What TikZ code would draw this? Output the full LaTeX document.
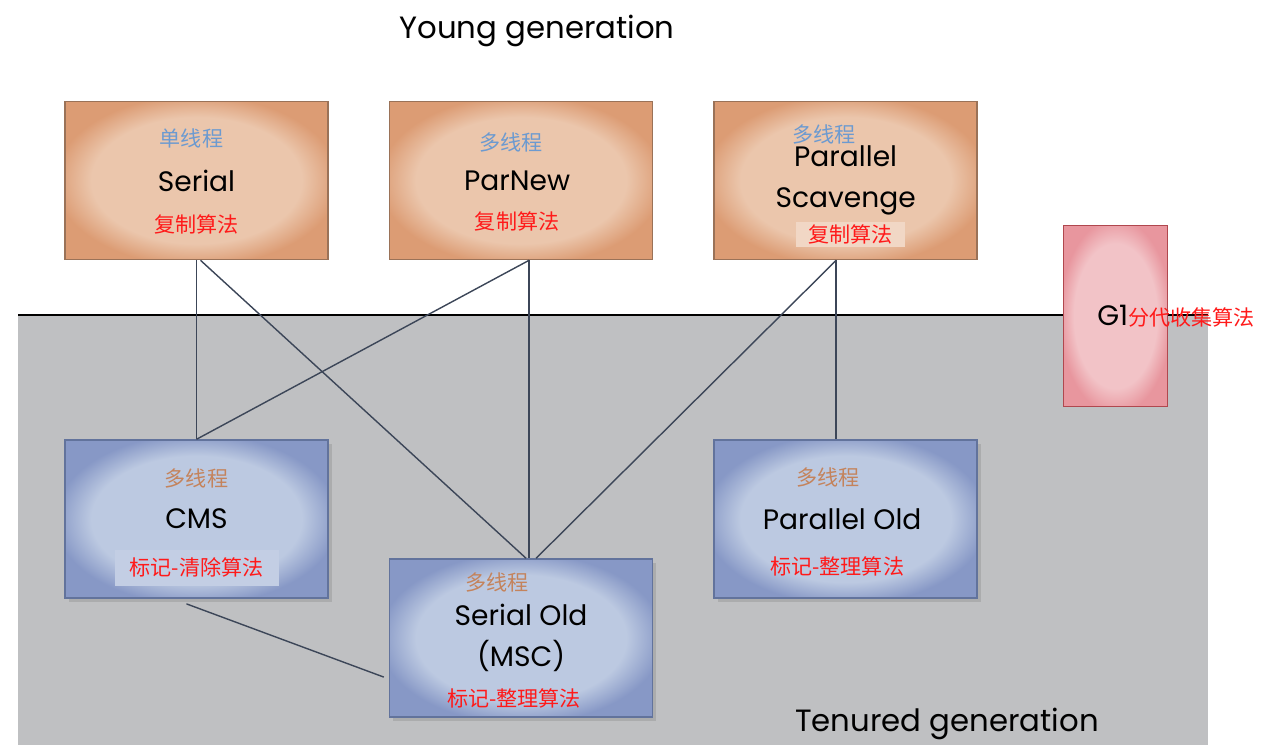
\documentclass[tikz,border=0pt]{standalone}
\usepackage{fontspec}
\setmainfont{Poppins}
\newfontfamily\cjk{Noto Sans CJK SC}
\usepackage{xcolor}
\usepackage{tikz}
\usetikzlibrary{positioning,shadows}
\definecolor{yin}{HTML}{EBC6AC}
\definecolor{yout}{HTML}{DC9C74}
\definecolor{ybord}{HTML}{9A7258}
\definecolor{oin}{HTML}{BCC9E1}
\definecolor{oout}{HTML}{8798C6}
\definecolor{obord}{HTML}{62739C}
\definecolor{gin}{HTML}{F2C3C7}
\definecolor{gout}{HTML}{E8969E}
\definecolor{gbord}{HTML}{B0474E}
\definecolor{tenured}{HTML}{BFC0C2}
\definecolor{thrblue}{HTML}{6C9AD0}
\definecolor{thrbrown}{HTML}{C4835C}
\definecolor{algred}{HTML}{FF1A1A}
\definecolor{linkc}{HTML}{3C4658}
\pgfdeclareradialshading{youngglow}{\pgfpoint{0bp}{0bp}}{color(0bp)=(yin); color(20bp)=(yin); color(27bp)=(yout); color(50bp)=(yout)}
\pgfdeclareradialshading{oldglow}{\pgfpoint{0bp}{0bp}}{color(0bp)=(oin); color(20bp)=(oin); color(27bp)=(oout); color(50bp)=(oout)}
\pgfdeclareradialshading{goneglow}{\pgfpoint{0bp}{0bp}}{color(0bp)=(gin); color(20bp)=(gin); color(27bp)=(gout); color(50bp)=(gout)}
\tikzset{
  young/.style ={draw=ybord,line width=0.9pt,shade,shading=youngglow,
                 minimum width=5.26cm,minimum height=3.16cm},
  old/.style   ={draw=obord,line width=0.9pt,shade,shading=oldglow,
                 minimum width=5.26cm,minimum height=3.16cm,
                 drop shadow={shadow xshift=2pt,shadow yshift=-2pt,fill=black!40,opacity=.5}},
  gonebox/.style={draw=gbord,line width=0.9pt,shade,shading=goneglow,
                 minimum width=2.08cm,minimum height=3.62cm},
  gcname/.style={font=\fontsize{16}{23}\selectfont,align=center,inner sep=0pt},
  thr/.style   ={font=\cjk\fontsize{12}{14}\selectfont,inner sep=1pt},
  alg/.style   ={font=\cjk\fontsize{12}{14}\selectfont,text=algred,inner sep=1pt},
  gentitle/.style={font=\fontsize{17.5}{21}\selectfont},
  link/.style  ={line width=0.8pt,draw=linkc}
}
\begin{document}
\begin{tikzpicture}[node distance=1.2cm]
  \useasboundingbox (0,0) rectangle (25.5,-14.9);
  \fill[tenured] (0.36,-6.3) rectangle (24.16,-14.9);
  \coordinate (genL) at (0.36,-6.3);
  \coordinate (genR) at (24.16,-6.3);
  \draw[line width=0.9pt] (genL) -- (genR);

  \node[gentitle] (youngt) at (10.74,-0.62) {Young generation};
  \node[gentitle] (tenuredt) at (18.94,-14.48) {Tenured generation};

  % young collectors
  \node[young] (serial) at (3.93,-3.61) {};
  \node[young,right=of serial] (parnew) {};
  \node[young,right=of parnew] (parscav) {};
  % tenured collectors
  \node[old,below=3.58cm of serial] (cms) {};
  \node[old,below=3.58cm of parscav] (parold) {};
  \node[old,below=5.96cm of parnew] (serialold) {};
  \node[gonebox] (gone) at (22.31,-6.32) {};

  \draw[link] (serial.south) -- (cms.north);
  \draw[link] ([xshift=0.08cm]serial.south) -- ([xshift=0.1cm]serialold.north);
  \draw[link] ([xshift=0.16cm]parnew.south) -- (cms.north);
  \draw[link] ([xshift=0.16cm]parnew.south) -- ([xshift=0.16cm]serialold.north);
  \draw[link] ([xshift=-0.19cm]parscav.south) -- ([xshift=0.3cm]serialold.north);
  \draw[link] ([xshift=-0.19cm]parscav.south) -- ([xshift=-0.19cm]parold.north);
  \draw[link] ([xshift=-0.2cm,yshift=-0.1cm]cms.south) -- ([xshift=-0.1cm,yshift=-0.78cm]serialold.west);

  \node[thr,text=thrblue] (serialthr) at ([xshift=-0.1cm,yshift=0.85cm]serial.center) {单线程};
  \node[gcname] (serialname) at (serial.center) {Serial};
  \node[alg] (serialalg) at ([yshift=-0.87cm]serial.center) {复制算法};

  \node[thr,text=thrblue] (parnewthr) at ([xshift=-0.2cm,yshift=0.77cm]parnew.center) {多线程};
  \node[gcname] (parnewname) at ([xshift=-0.08cm]parnew.center) {ParNew};
  \node[alg] (parnewalg) at ([xshift=-0.08cm,yshift=-0.81cm]parnew.center) {复制算法};

  \node[thr,text=thrblue] (parscavthr) at ([xshift=-0.43cm,yshift=0.93cm]parscav.center) {多线程};
  \node[gcname] (parscavname) at (parscav.center) {Parallel\\Scavenge};
  \node[alg,fill=yin!70!white,minimum width=2.18cm,minimum height=0.5cm] (parscavalg)
    at ([xshift=0.09cm,yshift=-1.07cm]parscav.center) {复制算法};

  \node[thr,text=thrbrown] (cmsthr) at ([yshift=0.81cm]cms.center) {多线程};
  \node[gcname] (cmsname) at (cms.center) {CMS};
  \node[alg,fill=oin!90!white,minimum width=3.28cm,minimum height=0.72cm] (cmsalg)
    at ([yshift=-0.97cm]cms.center) {标记-清除算法};

  \node[thr,text=thrbrown] (paroldthr) at ([xshift=-0.35cm,yshift=0.83cm]parold.center) {多线程};
  \node[gcname] (paroldname) at ([xshift=-0.07cm]parold.center) {Parallel Old};
  \node[alg] (paroldalg) at ([xshift=-0.17cm,yshift=-0.95cm]parold.center) {标记-整理算法};

  \node[thr,text=thrbrown] (serialoldthr) at ([xshift=-0.48cm,yshift=1.11cm]serialold.center) {多线程};
  \node[gcname] (serialoldname) at (serialold.center) {Serial Old\\(MSC)};
  \node[alg] (serialoldalg) at ([xshift=-0.14cm,yshift=-1.21cm]serialold.center) {标记-整理算法};

  \node[gcname,anchor=west] (gonename) at ([xshift=-0.37cm]gone.center)
    {G1{\cjk\fontsize{12}{14}\selectfont\color{algred}分代收集算法}};
\end{tikzpicture}
\end{document}
